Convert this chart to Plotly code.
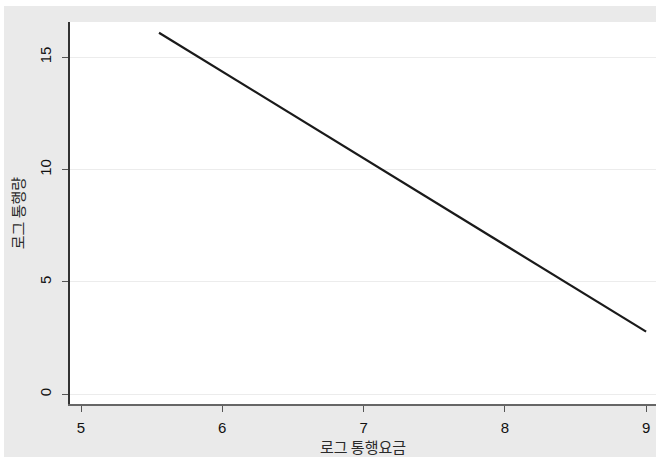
import plotly.graph_objects as go

# Fitted relationship: log toll (x) vs. log traffic volume (y)
log_toll = [5.552, 7.10, 9.0]
log_traffic = [16.09, 10.12, 2.79]

x_ticks = [5, 6, 7, 8, 9]
y_ticks = [0, 5, 10, 15]

x_title = "로그 통행요금"
y_title = "로그 통행량"

W, H = 656, 457
ML, MR, MT, MB = 70, 0, 22, 53
pw, ph = W - ML - MR, H - MT - MB

fig = go.Figure()
fig.add_trace(go.Scatter(
    x=log_toll, y=log_traffic, mode="lines",
    line=dict(color="#1a1a1a", width=2.2),
    showlegend=False, hoverinfo="skip",
))

axis_font = dict(family="Liberation Sans, Arial, sans-serif", size=15, color="#111111")
title_font = dict(family="Noto Sans CJK KR, sans-serif", size=15, color="#2a2a2a")

fig.update_xaxes(
    range=[4.922, 9.07], tickvals=x_ticks, ticktext=[str(v) for v in x_ticks],
    showgrid=False, zeroline=False,
    showline=True, linecolor="#666666", linewidth=1.5,
    ticks="outside", ticklen=6, tickcolor="#555555", tickwidth=1,
    tickfont=axis_font, ticklabelstandoff=3,
    title=dict(text=x_title, font=title_font, standoff=6),
)
fig.update_yaxes(
    range=[-0.43, 16.57], tickvals=y_ticks, ticktext=[str(v) for v in y_ticks],
    showgrid=True, gridcolor="#ececec", gridwidth=1, zeroline=False,
    showline=True, linecolor="#333333", linewidth=1.5,
    ticks="outside", ticklen=6, tickcolor="#555555", tickwidth=1,
    tickfont=axis_font, tickangle=-90, ticklabelstandoff=5,
    title=dict(text=y_title, font=title_font, standoff=9),
)

# thin white border along the top and left of the gray page
fig.add_shape(type="rect", xref="paper", yref="paper",
              x0=-ML / pw - 0.01, x1=(-ML + 4) / pw, y0=-MB / ph - 0.01, y1=1 + MT / ph + 0.01,
              fillcolor="white", line_width=0, layer="above")
fig.add_shape(type="rect", xref="paper", yref="paper",
              x0=-ML / pw - 0.01, x1=1.01, y0=1 + (MT - 6) / ph, y1=1 + MT / ph + 0.01,
              fillcolor="white", line_width=0, layer="above")

fig.update_layout(
    width=W, height=H,
    margin=dict(l=ML, r=MR, t=MT, b=MB, pad=0),
    paper_bgcolor="#eaeaea", plot_bgcolor="white",
    showlegend=False,
)

fig.write_html("out.html")
